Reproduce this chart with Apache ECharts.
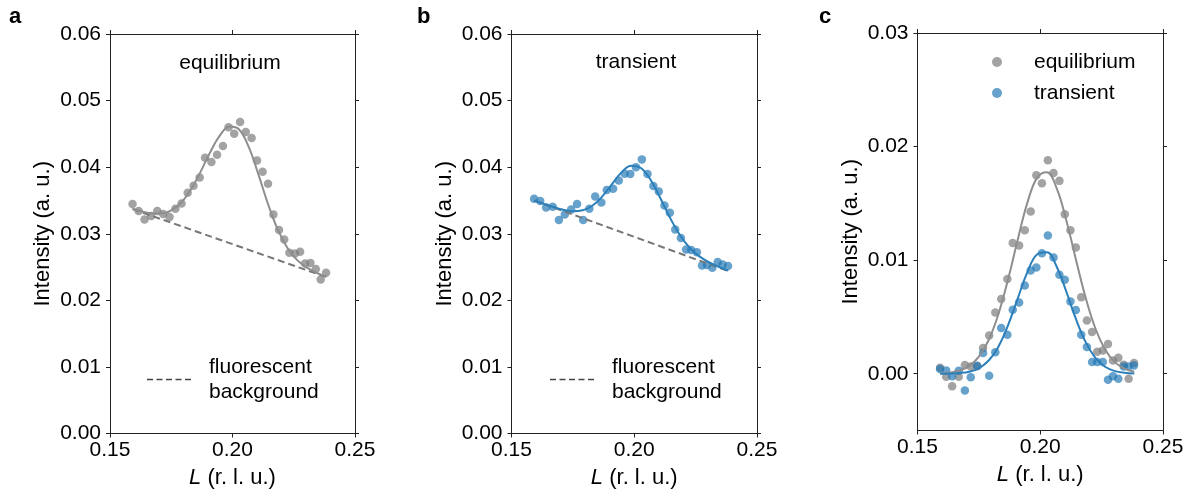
<!DOCTYPE html>
<html>
<head>
<meta charset="utf-8">
<script src="https://cdn.jsdelivr.net/npm/echarts@6/dist/echarts.min.js"></script>
<style>
html,body{margin:0;padding:0;background:#fff;}
#main{width:1194px;height:495px;}
</style>
</head>
<body>
<div id="main"></div>
<script>
// ---- data ----
const L = [0.1592, 0.1617, 0.1641, 0.1668, 0.1693, 0.1717, 0.1743, 0.1767, 0.1792, 0.1817, 0.1841, 0.1866, 0.1888, 0.1914, 0.1937, 0.1961, 0.1984, 0.2007, 0.2031, 0.2054, 0.2078, 0.2100, 0.2123, 0.2145, 0.2167, 0.2190, 0.2211, 0.2232, 0.2255, 0.2276, 0.2296, 0.2318, 0.2340, 0.2360, 0.2382];
// panel a: equilibrium raw intensity
const eqRaw = [0.03446, 0.03340, 0.03215, 0.03265, 0.03340, 0.03295, 0.03250, 0.03376, 0.03456, 0.03616, 0.03721, 0.03846, 0.04142, 0.04077, 0.04187, 0.04317, 0.04598, 0.04502, 0.04678, 0.04527, 0.04437, 0.04102, 0.03931, 0.03751, 0.03290, 0.03055, 0.02915, 0.02714, 0.02704, 0.02730, 0.02554, 0.02559, 0.02469, 0.02314, 0.02414];
// panel b: transient raw intensity
const trRaw = [0.03526, 0.03491, 0.03396, 0.03406, 0.03205, 0.03290, 0.03366, 0.03446, 0.03205, 0.03376, 0.03561, 0.03471, 0.03656, 0.03676, 0.03801, 0.03901, 0.03896, 0.03997, 0.04117, 0.03896, 0.03716, 0.03636, 0.03426, 0.03316, 0.03065, 0.02935, 0.02765, 0.02755, 0.02724, 0.02524, 0.02529, 0.02489, 0.02574, 0.02539, 0.02514];
// panel c: background-subtracted
const eqSub = [0.00053, -0.00026, -0.00111, -0.00026, 0.00076, 0.00063, 0.00065, 0.00227, 0.00336, 0.00540, 0.00657, 0.00833, 0.01150, 0.01129, 0.01264, 0.01428, 0.01748, 0.01677, 0.01880, 0.01768, 0.01698, 0.01405, 0.01264, 0.01111, 0.00674, 0.00469, 0.00367, 0.00194, 0.00204, 0.00262, 0.00117, 0.00140, 0.00080, -0.00044, 0.00094];
const trSub = [0.00041, 0.00029, -0.00023, 0.00026, -0.00147, -0.00032, 0.00070, 0.00182, -0.00018, 0.00188, 0.00402, 0.00343, 0.00563, 0.00627, 0.00777, 0.00909, 0.00935, 0.01061, 0.01216, 0.01023, 0.00871, 0.00827, 0.00636, 0.00560, 0.00343, 0.00235, 0.00103, 0.00103, 0.00103, -0.00053, -0.00023, -0.00044, 0.00064, 0.00064, 0.00073];
// fitted curves
const fitL = [0.1592, 0.1632, 0.1671, 0.1711, 0.1750, 0.1790, 0.1829, 0.1869, 0.1908, 0.1948, 0.1988, 0.2027, 0.2067, 0.2106, 0.2146, 0.2185, 0.2225, 0.2264, 0.2304, 0.2343, 0.2383];
const eqFitA = [0.03375, 0.03333, 0.03306, 0.03304, 0.03350, 0.03465, 0.03656, 0.03926, 0.04217, 0.04475, 0.04610, 0.04566, 0.04297, 0.03888, 0.03436, 0.03061, 0.02781, 0.02604, 0.02490, 0.02414, 0.02354];
const trFitB = [0.03500, 0.03449, 0.03401, 0.03359, 0.03337, 0.03352, 0.03420, 0.03557, 0.03739, 0.03922, 0.04023, 0.03988, 0.03808, 0.03538, 0.03238, 0.02986, 0.02793, 0.02664, 0.02572, 0.02505, 0.02446];
const eqFitC = [0.00003, 0.00010, 0.00028, 0.00069, 0.00150, 0.00297, 0.00522, 0.00832, 0.01178, 0.01509, 0.01729, 0.01774, 0.01632, 0.01352, 0.00999, 0.00668, 0.00396, 0.00214, 0.00102, 0.00044, 0.00017];
const trFitC = [0.00000, 0.00002, 0.00006, 0.00018, 0.00048, 0.00116, 0.00236, 0.00427, 0.00661, 0.00897, 0.01052, 0.01069, 0.00942, 0.00724, 0.00478, 0.00278, 0.00138, 0.00061, 0.00023, 0.00008, 0.00002];
// fluorescent background lines
const bgL = [0.1592, 0.2383];
const bgA = [0.0337, 0.0235];
const bgB = [0.0350, 0.0244];
// axis ticks
const xTicks = [0.15, 0.20, 0.25];
const yTicksAB = [0, 0.01, 0.02, 0.03, 0.04, 0.05, 0.06];
const yTicksC = [0, 0.01, 0.02, 0.03];
const panelLetters = ['a', 'b', 'c'];

// ---- styling ----
const FONT = '"Liberation Sans", Arial, sans-serif';
const FS = 21;
const AX = '#222';
const GRAY_PT = 'rgba(120,120,120,0.85)';
const BLUE_PT = 'rgba(31,119,180,0.85)';
const GRAY_LN = '#8e8e8e';
const BLUE_LN = '#2b7fba';
const DASH = '#777777';

const zip = (xs, ys) => xs.map((x, i) => [x, ys[i]]);
const fmt2 = v => Number(v).toFixed(2);

const grids = [
  {left: 110, top: 34, width: 245, height: 399.5},
  {left: 511.5, top: 34, width: 245.5, height: 399.5},
  {left: 917.5, top: 33, width: 245.5, height: 397.5}
];

function xAxes(gi) {
  const base = {
    type: 'value', gridIndex: gi, min: 0.15, max: 0.25,
    splitLine: {show: false},
    axisLine: {show: true, onZero: false, lineStyle: {color: AX, width: 1}},
    axisTick: {show: true, inside: false, length: 4, customValues: xTicks, lineStyle: {color: AX}},
  };
  return [
    Object.assign({}, base, {
      position: 'bottom',
      axisLabel: {show: true, customValues: xTicks, formatter: fmt2, fontSize: FS, color: '#000', fontFamily: FONT, margin: 6},
      name: '{i|L} (r. l. u.)', nameLocation: 'middle', nameGap: 33,
      nameTextStyle: {fontSize: 22, color: '#000', fontFamily: FONT,
        rich: {i: {fontStyle: 'italic', fontSize: 22, fontFamily: FONT, color: '#000'}}}
    }),
    Object.assign({}, base, {position: 'top', axisLabel: {show: false}})
  ];
}
function yAxes(gi, min, max, ticks) {
  const base = {
    type: 'value', gridIndex: gi, min: min, max: max,
    splitLine: {show: false},
    axisLine: {show: true, onZero: false, lineStyle: {color: AX, width: 1}},
    axisTick: {show: true, inside: false, length: 4, customValues: ticks, lineStyle: {color: AX}},
  };
  return [
    Object.assign({}, base, {
      position: 'left',
      axisLabel: {show: true, customValues: ticks, formatter: fmt2, fontSize: FS, color: '#000', fontFamily: FONT, margin: 9},
      name: 'Intensity (a. u.)', nameLocation: 'middle', nameGap: 56,
      nameTextStyle: {fontSize: 22, color: '#000', fontFamily: FONT}
    }),
    Object.assign({}, base, {position: 'right', axisLabel: {show: false}})
  ];
}

const xAxis = [].concat(xAxes(0), xAxes(1), xAxes(2));
const yAxis = [].concat(yAxes(0, 0, 0.06, yTicksAB), yAxes(1, 0, 0.06, yTicksAB), yAxes(2, -0.005, 0.03, yTicksC));

function scatter(name, xi, yi, data, color) {
  return {type: 'scatter', name: name, xAxisIndex: xi, yAxisIndex: yi, data: data,
    symbol: 'circle', symbolSize: 8.5, itemStyle: {color: color}, z: 2, silent: true};
}
function curve(xi, yi, data, color, dashed) {
  return {type: 'line', xAxisIndex: xi, yAxisIndex: yi, data: data, showSymbol: false, symbol: 'none',
    smooth: dashed ? false : 0.4,
    lineStyle: {color: color, width: 2, type: dashed ? [7, 4] : 'solid'}, z: 3, silent: true};
}

const series = [
  curve(0, 0, zip(bgL, bgA), DASH, true),
  scatter('equilibrium', 0, 0, zip(L, eqRaw), GRAY_PT),
  curve(0, 0, zip(fitL, eqFitA), GRAY_LN, false),

  curve(2, 2, zip(bgL, bgB), DASH, true),
  scatter('transient', 2, 2, zip(L, trRaw), BLUE_PT),
  curve(2, 2, zip(fitL, trFitB), BLUE_LN, false),

  scatter('equilibrium', 4, 4, zip(L, eqSub), GRAY_PT),
  scatter('transient', 4, 4, zip(L, trSub), BLUE_PT),
  curve(4, 4, zip(fitL, eqFitC), GRAY_LN, false),
  curve(4, 4, zip(fitL, trFitC), BLUE_LN, false)
];

const txt = (x, y, text, opts) => ({type: 'text', x: x, y: y, silent: true,
  style: Object.assign({text: text, fill: '#000', font: FS + 'px ' + FONT, align: 'left', verticalAlign: 'middle'}, opts || {})});

const graphic = [
  txt(9, 17, panelLetters[0], {font: 'bold 22px ' + FONT}),
  txt(417, 17, panelLetters[1], {font: 'bold 22px ' + FONT}),
  txt(819, 17, panelLetters[2], {font: 'bold 22px ' + FONT}),
  txt(230, 63, 'equilibrium', {align: 'center'}),
  txt(636, 62, 'transient', {align: 'center'}),
  {type: 'line', silent: true, shape: {x1: 147, y1: 379.5, x2: 194, y2: 379.5}, style: {stroke: '#444', lineWidth: 1.5, lineDash: [6, 3.5]}},
  txt(209, 367, 'fluorescent'),
  txt(209, 392, 'background'),
  {type: 'line', silent: true, shape: {x1: 550, y1: 379.5, x2: 597, y2: 379.5}, style: {stroke: '#444', lineWidth: 1.5, lineDash: [6, 3.5]}},
  txt(612, 367, 'fluorescent'),
  txt(612, 392, 'background')
];

const chart = echarts.init(document.getElementById('main'), null, {renderer: 'canvas'});
chart.setOption({
  animation: false,
  backgroundColor: '#fff',
  textStyle: {fontFamily: FONT},
  grid: grids.map(g => Object.assign({containLabel: false, outerBoundsMode: 'none'}, g)),
  xAxis: xAxis,
  yAxis: yAxis,
  legend: {
    data: ['equilibrium', 'transient'],
    orient: 'vertical', left: 987, top: 46,
    icon: 'circle', itemWidth: 10, itemHeight: 10, itemGap: 9,
    selectedMode: false,
    textStyle: {fontSize: FS, color: '#000', fontFamily: FONT, lineHeight: 22, padding: [0, 0, 0, 27]}
  },
  series: series,
  graphic: graphic
});
</script>
</body>
</html>
